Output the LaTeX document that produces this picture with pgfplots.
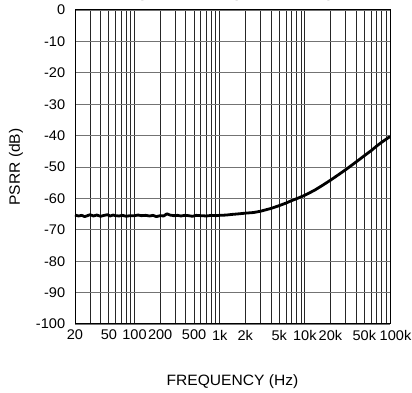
\documentclass[border=0pt]{standalone}
\usepackage{pgfplots}
\pgfplotsset{compat=1.18}
\usepackage{fontspec}
\setmainfont{Liberation Sans}[FakeStretch=1.04]
\usetikzlibrary{calc}

\begin{document}
\fontsize{14}{16}\selectfont
\begin{tikzpicture}
\begin{axis}[
  name=ax,
  scale only axis,
  width=315pt, height=314pt,
  xmode=log,
  xmin=20, xmax=100000,
  ymin=-100, ymax=0,
  xtick={20,50,100,200,500,1000,2000,5000,10000,20000,50000,100000},
  xticklabels={20,50,100,200,500,1k,2k,5k,10k,20k,50k,\hspace{11pt}100k},
  minor xtick={30,40,60,70,80,90,300,400,600,700,800,900,3000,4000,6000,7000,8000,9000,30000,40000,60000,70000,80000,90000},
  ytick={-100,-90,...,0},
  major tick length=0pt, minor tick length=0pt,
  xmajorgrids, xminorgrids, ymajorgrids,
  x grid style={black!85, line width=0.8pt},
  minor x grid style={black!85, line width=0.8pt},
  y grid style={black!55, line width=0.9pt},
  axis line style={black, line width=1pt},
  tick label style={font=\fontsize{14}{16}\selectfont},
  /pgf/number format/assume math mode=true,
  xticklabel style={yshift=-1pt},
  yticklabel style={xshift=-5pt},
  xlabel={FREQUENCY (Hz)},
  ylabel={PSRR (dB)},
  every axis x label/.style={at={(rel axis cs:0.5,0)}, yshift=-58pt, anchor=center, font=\fontsize{15}{17}\selectfont},
  every axis y label/.style={at={(rel axis cs:0,0.5)}, xshift=-59pt, rotate=90, anchor=center, font=\fontsize{15}{17}\selectfont},
  clip=false,
]
\addplot[black, line width=2.8pt, line join=round] coordinates {
(20,-65.3)(22,-65.6)(24,-65.4)(26,-65.8)(28,-65.5)(30,-65.2)(33,-65.6)(36,-65.3)
(40,-65.7)(44,-65.4)(48,-65.2)(52,-65.6)(56,-65.3)(60,-65.5)(66,-65.6)(72,-65.4)
(80,-65.7)(88,-65.5)(100,-65.5)(110,-65.3)(120,-65.5)(135,-65.4)(150,-65.6)
(165,-65.4)(180,-65.8)(200,-65.5)(220,-65.6)(240,-64.9)(260,-65.3)(290,-65.5)
(320,-65.4)(350,-65.6)(390,-65.4)(430,-65.5)(480,-65.7)(530,-65.4)(600,-65.5)
(700,-65.6)(800,-65.4)(900,-65.5)(1000,-65.4)(1200,-65.3)(1400,-65.1)(1700,-64.9)
(2000,-64.7)(2500,-64.5)(3000,-64.1)(4000,-63.2)(5000,-62.3)(6000,-61.5)
(7000,-60.7)(8000,-60.1)(10000,-59.0)(13000,-57.4)(16000,-55.9)(20000,-54.2)
(25000,-52.4)(30000,-50.9)(40000,-48.4)(50000,-46.4)(60000,-44.8)(70000,-43.3)
(80000,-42.1)(100000,-40.3)
};
\coordinate (sw) at (rel axis cs:0,0);
\coordinate (ne) at (rel axis cs:1,1);
\coordinate (tn) at (rel axis cs:0.5,1);
\end{axis}
\node[anchor=base, font=\bfseries\fontsize{15}{17}\selectfont] at ($(tn)+(3pt,12.5pt)$) {(VDD = 5V, Input Referred)};
\pgfresetboundingbox
\path ($(sw)+(-75pt,-69pt)$) rectangle ($(ne)+(22pt,10pt)$);
\end{tikzpicture}
\end{document}
